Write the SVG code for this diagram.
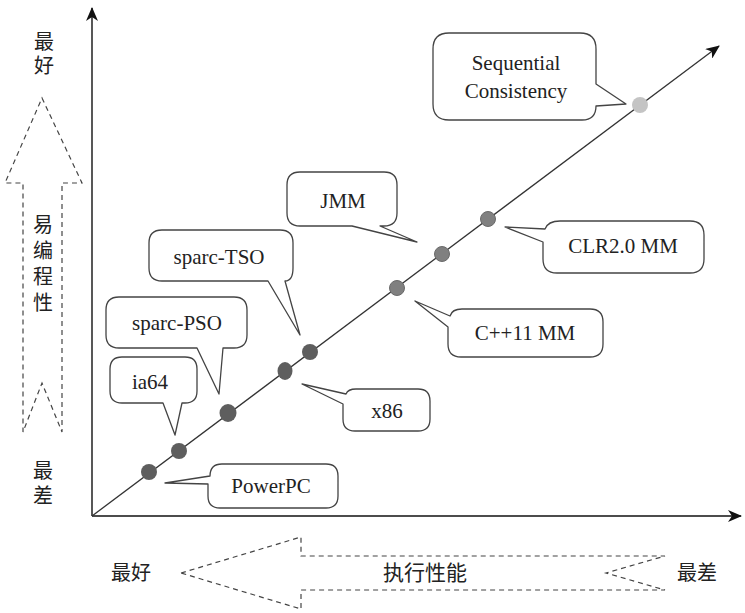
<svg xmlns="http://www.w3.org/2000/svg" width="745" height="613" viewBox="0 0 745 613">
<style>
.axis{stroke:#111;stroke-width:1.4;fill:none}
.diag{stroke:#333;stroke-width:1.3;fill:none}
.callout{fill:#fff;stroke:#444;stroke-width:1.3;stroke-linejoin:round}
.lbl{font-family:"Liberation Serif","Times New Roman",serif;font-size:21px;fill:#222;text-anchor:middle}
.cjk{font-family:"Noto Sans CJK SC","Noto Sans",sans-serif;font-size:20px;fill:#222;text-anchor:middle}
.vert{writing-mode:vertical-rl;text-orientation:upright}
.dash{fill:none;stroke:#444;stroke-width:1.2;stroke-dasharray:5 4}
.d1{fill:#5e5e5e}
.d2{fill:#808080;stroke:#6a6a6a;stroke-width:1}
.d3{fill:#c4c4c4}
</style>
<defs>
<marker id="ah" viewBox="0 0 14 12" refX="13" refY="6" markerWidth="14" markerHeight="12" markerUnits="userSpaceOnUse" orient="auto">
<path d="M0,0 L14,6 L0,12 L4,6 Z" fill="#111"/>
</marker>
</defs>

<g id="axes">
<line class="axis" x1="92" y1="516" x2="92" y2="8" marker-end="url(#ah)"/>
<line class="axis" x1="92" y1="516" x2="741" y2="516" marker-end="url(#ah)"/>
</g>

<g id="connectors">
<line class="diag" x1="92" y1="516" x2="719" y2="46" marker-end="url(#ah)"/>
</g>

<g id="programmability-arrow">
<path class="dash" d="M42,98 L82,183 L62,183 L62,432 L42,383 L23,432 L23,183 L5,183 Z"/>
<text class="cjk vert" x="44" y="31" style="text-anchor:start;letter-spacing:4px">最好</text>
<text class="cjk vert" x="43" y="214" style="text-anchor:start;letter-spacing:6px">易编程性</text>
<text class="cjk vert" x="43" y="460" style="text-anchor:start;letter-spacing:5px">最差</text>
</g>

<g id="performance-arrow">
<path class="dash" d="M181,573 L301,537 L301,556 L665,556 L606,573 L665,590 L301,590 L301,609 Z"/>
<text class="cjk" x="131" y="580">最好</text>
<text class="cjk" x="425" y="580" style="font-size:21px">执行性能</text>
<text class="cjk" x="697" y="580">最差</text>
</g>

<g id="node-sc">
<path class="callout" d="M449,33 H580 Q596,33 596,49 V84 L626,104 L596,106 V106 Q596,120 582,120 H449 Q433,120 433,104 V49 Q433,33 449,33 Z"/>
<text class="lbl" x="516" y="70">Sequential</text>
<text class="lbl" x="516" y="98">Consistency</text>
<circle class="d3" cx="640" cy="105" r="8"/>
</g>

<g id="node-jmm">
<path class="callout" d="M300,172 H384 Q397,172 397,185 V213 Q397,226 384,226 H380 L417,242 L352,226 H300 Q287,226 287,213 V185 Q287,172 300,172 Z"/>
<text class="lbl" x="343" y="208">JMM</text>
<circle class="d2" cx="442" cy="254" r="7.5"/>
</g>

<g id="node-clr">
<path class="callout" d="M505,227 L545,229 Q548,221 560,221 H690 Q704,221 704,235 V259 Q704,273 690,273 H557 Q543,273 543,259 V242 Z"/>
<text class="lbl" x="623" y="253">CLR2.0 MM</text>
<circle class="d2" cx="488" cy="219" r="7.5"/>
</g>

<g id="node-cpp">
<path class="callout" d="M415,301 L450,316 Q452,309 462,309 H590 Q603,309 603,322 V344 Q603,357 590,357 H461 Q448,357 448,344 V327 Z"/>
<text class="lbl" x="525" y="340">C++11 MM</text>
<circle class="d2" cx="397" cy="288" r="7.5"/>
</g>

<g id="node-x86">
<path class="callout" d="M302,384 L346,394 Q348,389 356,389 H418 Q430,389 430,401 V419 Q430,431 418,431 H355 Q343,431 343,419 V404 Z"/>
<text class="lbl" x="387" y="418">x86</text>
<ellipse class="d1" cx="285" cy="371" rx="7.5" ry="9"/>
</g>

<g id="node-sparc-tso">
<path class="callout" d="M162,230 H280 Q293,230 293,243 V268 Q293,281 285,281 L300,335 L268,281 H162 Q149,281 149,268 V243 Q149,230 162,230 Z"/>
<text class="lbl" x="219" y="264">sparc-TSO</text>
<circle class="d1" cx="310" cy="352" r="8"/>
</g>

<g id="node-sparc-pso">
<path class="callout" d="M119,297 H234 Q247,297 247,310 V335 Q247,348 234,348 H223 L219,394 L197,348 H119 Q106,348 106,335 V310 Q106,297 119,297 Z"/>
<text class="lbl" x="177" y="330">sparc-PSO</text>
<ellipse class="d1" cx="228" cy="413" rx="8.5" ry="9"/>
</g>

<g id="node-ia64">
<path class="callout" d="M122,357 H185 Q197,357 197,369 V391 Q197,403 185,403 H182 L175,435 L163,403 H122 Q110,403 110,391 V369 Q110,357 122,357 Z"/>
<text class="lbl" x="150" y="389">ia64</text>
<circle class="d1" cx="179" cy="451" r="8"/>
</g>

<g id="node-powerpc">
<path class="callout" d="M165,483 L210,476 Q210,464 222,464 H326 Q338,464 338,476 V496 Q338,508 326,508 H220 Q208,508 208,496 V484 Z"/>
<text class="lbl" x="271" y="493">PowerPC</text>
<circle class="d1" cx="149" cy="472" r="8"/>
</g>
</svg>
